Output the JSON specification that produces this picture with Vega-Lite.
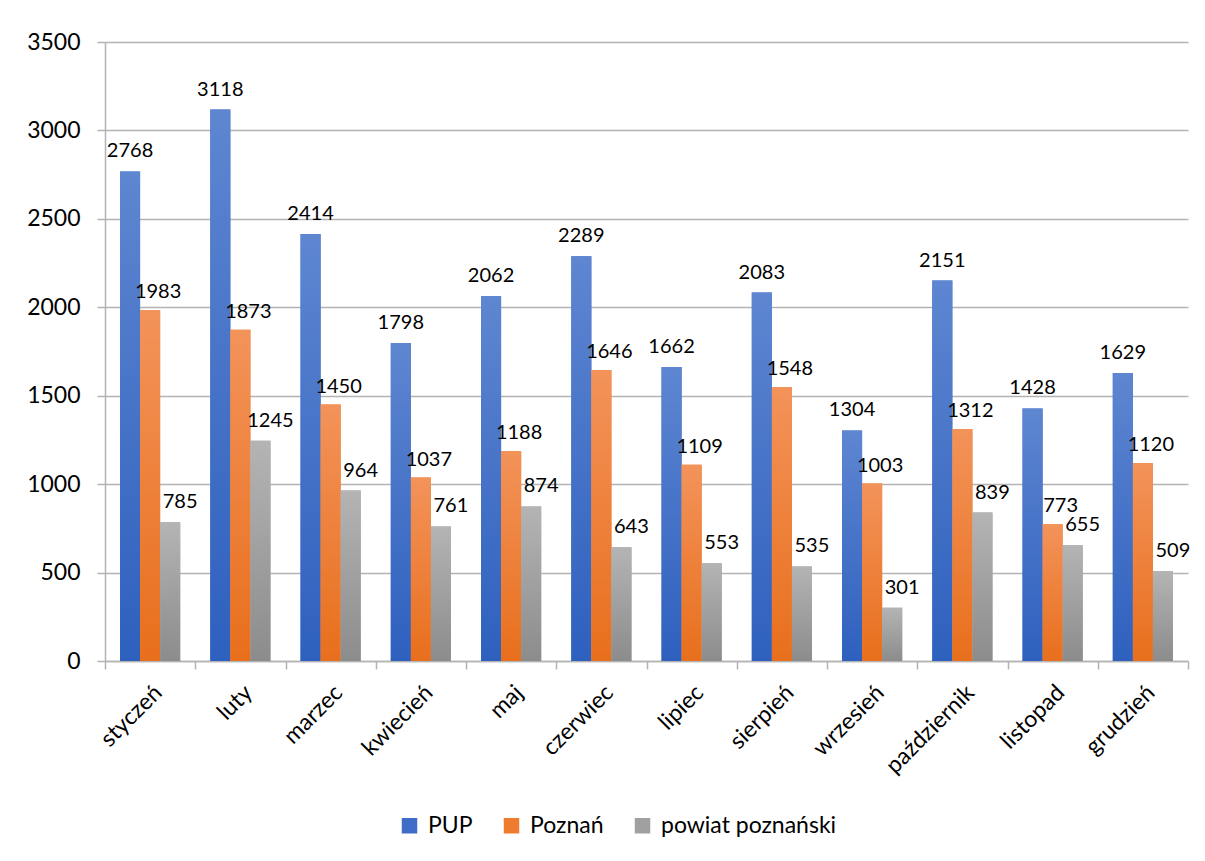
{
  "$schema": "https://vega.github.io/schema/vega-lite/v6.json",
  "autosize": "none",
  "width": 1083,
  "height": 619,
  "padding": {"left": 105, "top": 42, "right": 17, "bottom": 200},
  "background": "white",
  "config": {
    "font": "Lato",
    "view": {"stroke": null},
    "axis": {"labelFont": "Lato", "labelColor": "#000000", "labelFontSize": 20}
  },
  "data": {
    "values": [
      {"month": "styczeń", "series": "PUP", "value": 2768},
      {"month": "styczeń", "series": "Poznań", "value": 1983},
      {"month": "styczeń", "series": "powiat poznański", "value": 785},
      {"month": "luty", "series": "PUP", "value": 3118},
      {"month": "luty", "series": "Poznań", "value": 1873},
      {"month": "luty", "series": "powiat poznański", "value": 1245},
      {"month": "marzec", "series": "PUP", "value": 2414},
      {"month": "marzec", "series": "Poznań", "value": 1450},
      {"month": "marzec", "series": "powiat poznański", "value": 964},
      {"month": "kwiecień", "series": "PUP", "value": 1798},
      {"month": "kwiecień", "series": "Poznań", "value": 1037},
      {"month": "kwiecień", "series": "powiat poznański", "value": 761},
      {"month": "maj", "series": "PUP", "value": 2062},
      {"month": "maj", "series": "Poznań", "value": 1188},
      {"month": "maj", "series": "powiat poznański", "value": 874},
      {"month": "czerwiec", "series": "PUP", "value": 2289},
      {"month": "czerwiec", "series": "Poznań", "value": 1646},
      {"month": "czerwiec", "series": "powiat poznański", "value": 643},
      {"month": "lipiec", "series": "PUP", "value": 1662},
      {"month": "lipiec", "series": "Poznań", "value": 1109},
      {"month": "lipiec", "series": "powiat poznański", "value": 553},
      {"month": "sierpień", "series": "PUP", "value": 2083},
      {"month": "sierpień", "series": "Poznań", "value": 1548},
      {"month": "sierpień", "series": "powiat poznański", "value": 535},
      {"month": "wrzesień", "series": "PUP", "value": 1304},
      {"month": "wrzesień", "series": "Poznań", "value": 1003},
      {"month": "wrzesień", "series": "powiat poznański", "value": 301},
      {"month": "październik", "series": "PUP", "value": 2151},
      {"month": "październik", "series": "Poznań", "value": 1312},
      {"month": "październik", "series": "powiat poznański", "value": 839},
      {"month": "listopad", "series": "PUP", "value": 1428},
      {"month": "listopad", "series": "Poznań", "value": 773},
      {"month": "listopad", "series": "powiat poznański", "value": 655},
      {"month": "grudzień", "series": "PUP", "value": 1629},
      {"month": "grudzień", "series": "Poznań", "value": 1120},
      {"month": "grudzień", "series": "powiat poznański", "value": 509}
    ]
  },
  "encoding": {
    "x": {
      "field": "month", "type": "nominal", "sort": null,
      "scale": {"paddingInner": 0, "paddingOuter": 0},
      "axis": {
        "title": null, "labelAngle": -45, "labelAlign": "right", "labelBaseline": "top",
        "labelFontSize": 23, "labelPadding": 12, "tickBand": "extent", "tickSize": 8, "tickColor": "#b3b3b3",
        "domainColor": "#b3b3b3", "domainWidth": 1.5, "tickWidth": 1.5, "grid": false
      }
    },
    "xOffset": {
      "field": "series", "type": "nominal", "sort": ["PUP", "Poznań", "powiat poznański"],
      "scale": {"paddingInner": 0, "paddingOuter": 0.75}
    },
    "y": {
      "field": "value", "type": "quantitative",
      "scale": {"domain": [0, 3500], "nice": false},
      "axis": {
        "title": null, "values": [0, 500, 1000, 1500, 2000, 2500, 3000, 3500], "format": "d",
        "labelFontSize": 23, "labelPadding": 17, "tickSize": 8, "tickColor": "#b3b3b3",
        "tickWidth": 1.5, "domainColor": "#b3b3b3", "domainWidth": 1.5,
        "gridColor": "#b3b3b3", "gridWidth": 1.5
      }
    }
  },
  "layer": [
    {
      "mark": {"type": "bar"},
      "encoding": {
        "color": {
          "field": "series", "type": "nominal", "sort": ["PUP", "Poznań", "powiat poznański"],
          "scale": {"domain": ["PUP", "Poznań", "powiat poznański"], "range": ["#3f6cc6", "#ee7b2e", "#a0a0a0"]},
          "legend": {
            "title": null, "orient": "none", "direction": "horizontal",
            "legendX": 293, "legendY": 772, "symbolType": "square", "symbolSize": 240,
            "symbolStrokeWidth": 0, "labelFontSize": 23, "labelFont": "Lato", "labelColor": "#000000",
            "labelLimit": 400, "columnPadding": 27, "labelOffset": 7
          }
        }
      }
    },
    {
      "transform": [{"filter": "datum.series === 'PUP'"}],
      "mark": {"type": "bar", "fill": {"gradient": "linear", "x1": 0, "y1": 0, "x2": 0, "y2": 1,
        "stops": [{"offset": 0, "color": "#5e86d1"}, {"offset": 1, "color": "#2e60be"}]}}
    },
    {
      "transform": [{"filter": "datum.series === 'Poznań'"}],
      "mark": {"type": "bar", "fill": {"gradient": "linear", "x1": 0, "y1": 0, "x2": 0, "y2": 1,
        "stops": [{"offset": 0, "color": "#f3935a"}, {"offset": 1, "color": "#e86f1c"}]}}
    },
    {
      "transform": [{"filter": "datum.series === 'powiat poznański'"}],
      "mark": {"type": "bar", "fill": {"gradient": "linear", "x1": 0, "y1": 0, "x2": 0, "y2": 1,
        "stops": [{"offset": 0, "color": "#b4b4b4"}, {"offset": 1, "color": "#8c8c8c"}]}}
    },
    {
      "transform": [{"filter": "datum.series === 'PUP'"}],
      "mark": {"type": "text", "font": "Lato", "fontSize": 20, "color": "#000000", "baseline": "bottom", "dy": -10},
      "encoding": {"text": {"field": "value", "type": "quantitative"}}
    },
    {
      "transform": [{"filter": "datum.series === 'Poznań'"}],
      "mark": {"type": "text", "font": "Lato", "fontSize": 20, "color": "#000000", "baseline": "bottom", "dy": -8, "dx": 8},
      "encoding": {"text": {"field": "value", "type": "quantitative"}}
    },
    {
      "transform": [{"filter": "datum.series === 'powiat poznański'"}],
      "mark": {"type": "text", "font": "Lato", "fontSize": 20, "color": "#000000", "baseline": "bottom", "dy": -10, "dx": 10},
      "encoding": {"text": {"field": "value", "type": "quantitative"}}
    }
  ]
}
